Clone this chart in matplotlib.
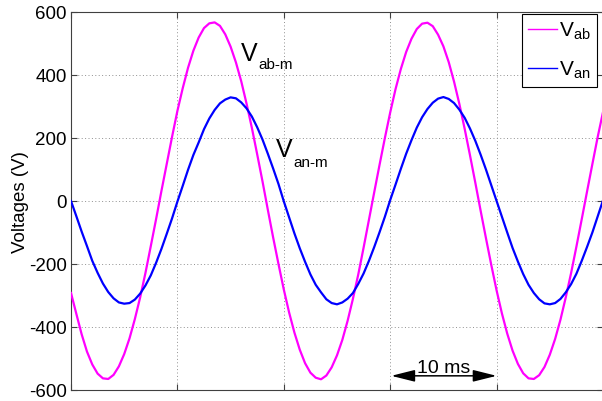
import numpy as np
import matplotlib
matplotlib.use('Agg')
import matplotlib.pyplot as plt

plt.rcParams['font.family'] = ['Liberation Sans', 'DejaVu Sans']
plt.rcParams['axes.unicode_minus'] = False
plt.rcParams['mathtext.fontset'] = 'custom'
plt.rcParams['mathtext.rm'] = 'Liberation Sans'
plt.rcParams['mathtext.it'] = 'Liberation Sans'

# time axis (ms), 0.5 ms sampling
t_ms = np.linspace(0, 50, 101)

v_ab = [-292, -358, -423, -478, -519, -548, -563, -565, -552, -525,
        -486, -436, -375, -306, -228, -143, -57, 32, 118, 204,
        286, 358, 423, 477, 519, 549, 564, 567, 556, 529,
        490, 440, 380, 309, 232, 148, 62, -28, -116, -200,
        -281, -354, -418, -472, -515, -545, -561, -566, -554, -528,
        -490, -441, -380, -310, -233, -148, -60, 28, 115, 200,
        281, 355, 419, 473, 515, 546, 563, 566, 555, 528,
        491, 441, 379, 308, 229, 145, 58, -31, -118, -203,
        -284, -357, -421, -475, -517, -547, -563, -565, -553, -527,
        -488, -438, -377, -306, -229, -145, -58, 30, 117, 203,
        282]

v_an = [0, -48, -97, -143, -190, -228, -262, -289, -309, -322,
        -326, -324, -313, -294, -268, -236, -196, -152, -104, -55,
        -2, 48, 99, 146, 186, 228, 262, 289, 310, 322,
        329, 326, 313, 294, 268, 234, 195, 150, 103, 54,
        -1, -52, -103, -150, -193, -233, -266, -290, -312, -324,
        -328, -322, -310, -292, -263, -230, -190, -146, -99, -50,
        3, 52, 102, 150, 193, 233, 266, 292, 312, 325,
        330, 324, 311, 290, 264, 230, 191, 147, 100, 50,
        0, -50, -100, -149, -192, -232, -266, -292, -312, -325,
        -328, -324, -311, -290, -264, -231, -190, -146, -100, -49,
        2]

y_ticks = [-600, -400, -200, 0, 200, 400, 600]
x_ticks = [0, 10, 20, 30, 40, 50]

fig = plt.figure(figsize=(6.02, 4.02), dpi=100)
ax = fig.add_axes([71/602, 11/402, 532/602, 378/402])

ax.plot(t_ms, v_ab, color='#ff00ff', lw=1.6, label=r'$\mathregular{V_{ab}}$', zorder=3)
ax.plot(t_ms, v_an, color='#0000ff', lw=1.6, label=r'$\mathregular{V_{an}}$', zorder=4)

ax.set_xlim(0, 50)
ax.set_ylim(-600, 600)
ax.set_xticks(x_ticks)
ax.set_xticklabels([])
ax.set_yticks(y_ticks)
ax.grid(True, color='#909090', linestyle=(0, (1, 2.5)), lw=0.7)
ax.tick_params(direction='in', top=True, right=True, length=4, width=0.8,
               color='#404040', labelsize=13.5, pad=3)
for s in ax.spines.values():
    s.set_color('#404040')
    s.set_linewidth(0.8)

ax.set_ylabel('Voltages (V)', fontsize=13.5)
ax.yaxis.set_label_coords(-0.079, 0.5)

leg = ax.legend(loc='upper right', bbox_to_anchor=(0.989, 0.995), borderaxespad=0,
                fancybox=False, edgecolor='black', framealpha=1, fontsize=15,
                handlelength=1.4, handletextpad=0.1, borderpad=0.3, labelspacing=0.85)
leg.get_frame().set_linewidth(0.8)
for ln in leg.get_lines():
    ln.set_linewidth(1.0)

# annotations
ax.text(15.96, 448, 'V', fontsize=18, va='baseline', zorder=6)
ax.text(17.65, 422, 'ab-m', fontsize=11, va='baseline', zorder=6)
ax.text(19.25, 143, 'V', fontsize=18, va='baseline', zorder=6)
ax.text(20.94, 111, 'an-m', fontsize=11, va='baseline', zorder=6)

ax.annotate('', xy=(30.1, -555), xytext=(40, -555),
            arrowprops=dict(arrowstyle='<|-|>,head_length=0.8,head_width=0.2',
                            color='k', lw=1.1, shrinkA=0, shrinkB=0, mutation_scale=18),
            zorder=6)
ax.text(35, -544, '10 ms', ha='center', va='baseline', fontsize=14, zorder=6)

fig.savefig('out.png', dpi=100)
